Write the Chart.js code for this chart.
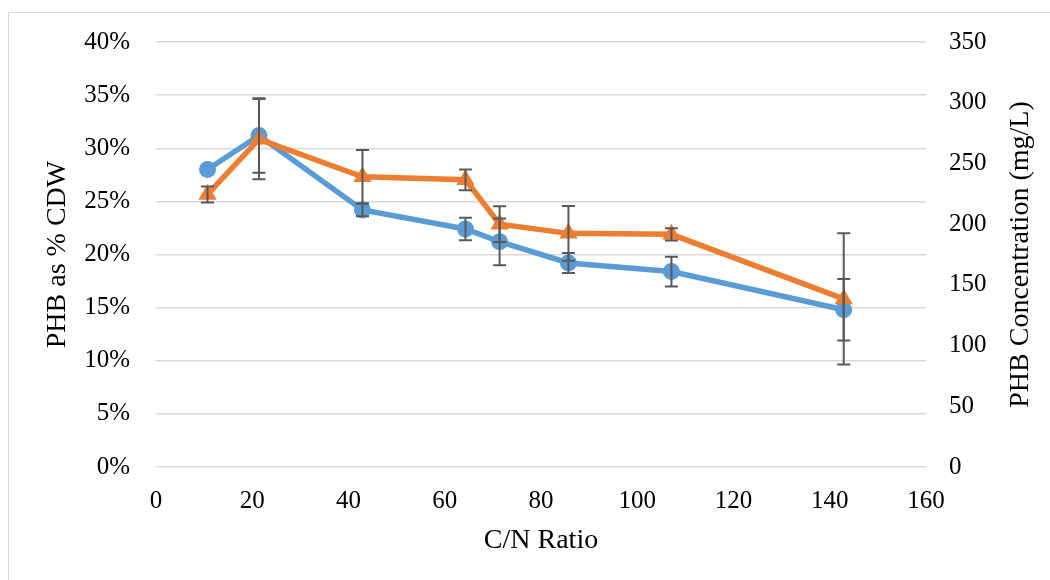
<!DOCTYPE html>
<html>
<head>
<meta charset="utf-8">
<script src="https://cdn.jsdelivr.net/npm/chart.js@4.4.1/dist/chart.umd.min.js"></script>
<style>
  html, body { margin: 0; padding: 0; background: #fff; }
</style>
</head>
<body>
<canvas id="chart" width="1050" height="580"></canvas>
<script>
// C/N ratio on the x axis
const cnRatio = [10.7, 21.4, 42.9, 64.3, 71.4, 85.7, 107.1, 142.9];

// PHB as % of cell dry weight (left axis) with standard deviation
const phbPercent = [28.0, 31.2, 24.2, 22.4, 21.2, 19.2, 18.4, 14.8];
const phbPercentErr = [0, 3.5, 0.6, 1.05, 2.2, 0.95, 1.4, 2.9];

// PHB concentration in mg/L (right axis) with standard deviation
const phbConc = [224.5, 270, 239, 236.5, 200, 192.4, 191.6, 138.4];
const phbConcErr = [6.6, 33, 22, 8.5, 14.8, 22.5, 5, 54];

const FONT = "'Liberation Serif', 'Times New Roman', serif";
const BLUE = '#5B9BD5';
const ORANGE = '#ED7D31';

const toPoints = (xs, ys) => xs.map((x, i) => ({ x, y: ys[i] }));

// vertical error bars with caps, drawn on top of the series
const errorBars = {
    id: 'errorBars',
    afterDatasetsDraw(chart) {
        const ctx = chart.ctx;
        ctx.save();
        ctx.strokeStyle = '#595959';
        ctx.lineWidth = 2;
        chart.data.datasets.forEach((ds, i) => {
            const meta = chart.getDatasetMeta(i);
            const yScale = chart.scales[ds.yAxisID];
            ds.errors.forEach((e, j) => {
                if (!e) return;
                const px = meta.data[j].x;
                const v = ds.data[j].y;
                const top = yScale.getPixelForValue(v + e);
                const bot = yScale.getPixelForValue(v - e);
                ctx.beginPath();
                ctx.moveTo(px, top);
                ctx.lineTo(px, bot);
                ctx.moveTo(px - 6.5, top);
                ctx.lineTo(px + 6.5, top);
                ctx.moveTo(px - 6.5, bot);
                ctx.lineTo(px + 6.5, bot);
                ctx.stroke();
            });
        });
        ctx.restore();
    },
};

// outer frame and the right-hand axis title (reads bottom to top)
const decorations = {
    id: 'decorations',
    beforeDraw(chart) {
        const ctx = chart.ctx;
        ctx.save();
        ctx.strokeStyle = '#D9D9D9';
        ctx.lineWidth = 1;
        ctx.strokeRect(8.5, 12.5, chart.width + 20, chart.height + 20);
        ctx.restore();
    },
    afterDraw(chart) {
        const ctx = chart.ctx;
        const area = chart.chartArea;
        ctx.save();
        ctx.font = '28px ' + FONT;
        ctx.fillStyle = '#000';
        ctx.textAlign = 'center';
        ctx.textBaseline = 'middle';
        ctx.translate(1021, (area.top + area.bottom) / 2);
        ctx.rotate(-Math.PI / 2);
        ctx.fillText('PHB Concentration (mg/L)', 0, 0);
        ctx.restore();
    },
};

const canvas = document.getElementById('chart');

const chart = new Chart(canvas, {
    type: 'line',
    data: {
        datasets: [
            {
                label: 'PHB as % CDW',
                data: toPoints(cnRatio, phbPercent),
                errors: phbPercentErr,
                yAxisID: 'y',
                borderColor: BLUE,
                backgroundColor: BLUE,
                borderWidth: 5.5,
                pointStyle: 'circle',
                pointRadius: 8.5,
                pointBorderWidth: 0,
                tension: 0,
                clip: false,
                order: 2,
            },
            {
                label: 'PHB Concentration (mg/L)',
                data: toPoints(cnRatio, phbConc),
                errors: phbConcErr,
                yAxisID: 'y2',
                borderColor: ORANGE,
                backgroundColor: ORANGE,
                borderWidth: 5.5,
                pointStyle: 'triangle',
                pointRadius: 10.5,
                pointBorderWidth: 0,
                tension: 0,
                clip: false,
                order: 1,
            },
        ],
    },
    options: {
        responsive: false,
        devicePixelRatio: 1,
        animation: false,
        layout: { padding: { top: 42, right: 0, bottom: 0, left: 0 } },
        plugins: {
            legend: { display: false },
            tooltip: { enabled: false },
        },
        scales: {
            x: {
                type: 'linear',
                min: 0,
                max: 160,
                ticks: {
                    stepSize: 20,
                    padding: 19,
                    color: '#000',
                    font: { family: FONT, size: 25 },
                },
                grid: { display: false, drawTicks: false },
                border: { display: false },
                title: {
                    display: true,
                    text: 'C/N Ratio',
                    color: '#000',
                    font: { family: FONT, size: 28 },
                    padding: { top: 0, bottom: 23 },
                },
                afterFit(scale) { scale.height = 113; },
            },
            y: {
                position: 'left',
                min: 0,
                max: 40,
                ticks: {
                    stepSize: 5,
                    padding: 26,
                    color: '#000',
                    font: { family: FONT, size: 25 },
                    callback: (v) => v + '%',
                },
                grid: { color: '#D9D9D9', lineWidth: 1.5, drawTicks: false },
                border: { display: false },
                title: {
                    display: true,
                    text: 'PHB as % CDW',
                    color: '#000',
                    font: { family: FONT, size: 28 },
                    padding: { top: 41, bottom: 0 },
                },
                afterFit(scale) { scale.width = 156; },
            },
            y2: {
                position: 'right',
                min: 0,
                max: 350,
                ticks: {
                    stepSize: 50,
                    padding: 23,
                    color: '#000',
                    font: { family: FONT, size: 25 },
                },
                grid: { display: false, drawTicks: false },
                border: { display: false },
                afterFit(scale) { scale.width = 124; },
            },
        },
    },
    plugins: [errorBars, decorations],
});
</script>
</body>
</html>
